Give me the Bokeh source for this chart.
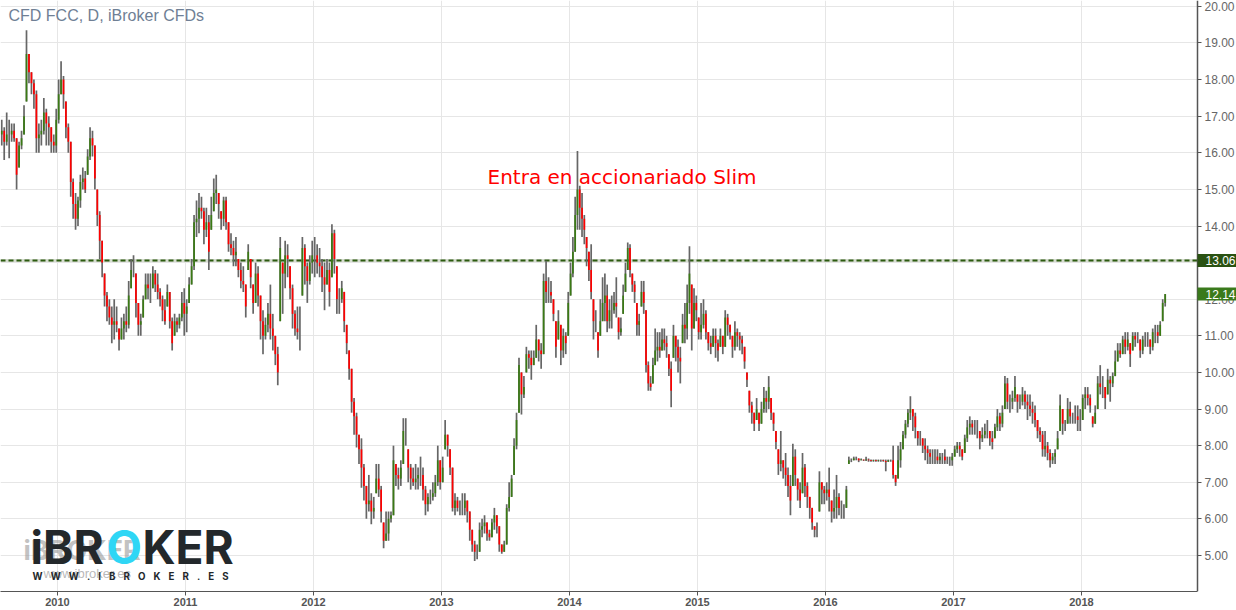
from bokeh.plotting import figure
from bokeh.models import Label, FixedTicker, BoxAnnotation, ColumnDataSource
from bokeh.embed import file_html
from bokeh.resources import INLINE

# weekly (high, low, close), grouped by calendar year
bars_2009 = [(16.9,16.2,16.6),(16.7,15.8,16.3),(17.1,16.2,16.5),(16.9,15.85,16.5),(16.8,16.3,16.6),(16.8,16.3,16.4),
 (16.4,15.0,15.4),(16.3,15.6,16.2),(16.6,16.1,16.4),(17.3,16.5,17.0),(19.35,17.4,18.7),(18.7,17.9,18.2),(18.2,17.6,17.9),
 (18.0,17.2,17.6),(17.7,16.0,16.4),(16.8,16.0,16.5),(16.9,16.2,16.6),(17.5,16.5,17.1),(17.2,16.2,16.8),(17.0,16.2,16.7),
 (16.7,16.0,16.3),(16.5,16.0,16.2),(17.2,16.0,16.9)]
bars_2010 = [(18.0,16.8,17.6),(18.5,17.6,18.0),(18.1,17.2,17.6),(17.4,16.4,16.7),(16.8,16.0,16.3),(16.3,14.8,15.2),
 (15.3,14.2,14.6),(14.9,13.9,14.2),(14.8,14.0,14.7),(15.4,14.5,15.2),(15.6,15.0,15.3),(15.5,14.9,15.0),(16.1,15.4,15.9),
 (16.7,15.8,16.4),(16.6,15.9,16.2),(16.2,15.0,15.3),(15.0,14.0,14.3),(14.4,13.1,13.6),(13.6,12.6,13.0),(12.7,11.8,12.1),
 (12.2,11.4,11.8),(12.0,11.3,11.5),(11.8,10.8,11.3),(12.0,10.9,11.4),(11.8,11.1,11.3),(11.2,10.6,10.9),(11.5,10.9,11.2),
 (11.6,10.9,11.4),(11.8,11.1,11.3),(12.5,11.2,12.1),(13.1,12.3,12.8),(13.2,12.6,12.8),(12.7,11.5,11.9),(11.9,11.0,11.3),
 (11.6,11.0,11.4),(12.1,11.5,12.0),(12.7,12.0,12.4),(12.7,12.0,12.3),(12.7,11.9,12.3),(12.9,12.3,12.7),(12.8,12.2,12.4),
 (12.7,12.0,12.2),(12.3,11.8,12.0),(12.1,11.4,11.7),(12.0,11.3,11.4),(12.4,11.8,12.2),(12.2,11.2,11.4),(11.5,10.6,10.8),
 (11.6,11.0,11.4),(11.5,11.1,11.3),(11.6,11.2,11.5),(12.2,11.4,11.9),(12.3,11.0,11.6)]
bars_2011 = [(12.0,11.1,11.8),(12.6,11.9,12.4),(13.1,12.4,12.9),(14.3,12.8,14.1),(14.7,13.7,14.2),(14.9,13.8,14.5),
 (14.8,14.2,14.4),(14.5,13.5,13.9),(14.5,13.7,14.1),(14.3,12.8,13.3),(14.8,13.9,14.3),(15.3,14.4,14.9),(15.4,14.6,15.0),
 (14.9,14.2,14.6),(14.4,13.9,14.2),(14.8,14.0,14.7),(14.8,13.9,14.1),(14.1,13.3,13.5),(13.8,13.2,13.4),(13.6,12.9,13.2),
 (13.7,12.9,13.3),(13.1,12.6,12.8),(13.0,12.3,12.5),(12.9,12.2,12.4),(12.4,11.5,11.8),(13.5,12.8,13.3),(13.1,12.3,12.6),
 (12.4,11.6,11.9),(13.0,11.9,12.7),(12.9,11.8,12.1),(12.1,10.9,11.4),(11.7,10.5,11.0),(11.5,10.9,11.3),(11.9,11.1,11.6),
 (12.4,10.9,11.2),(11.6,10.6,11.0),(11.0,10.2,10.5),(10.7,9.65,10.0),(13.7,11.4,13.4),(13.0,11.6,12.7),(13.6,12.3,13.2),
 (13.5,12.6,13.1),(12.9,12.0,12.3),(12.4,11.2,11.6),(11.7,11.0,11.2),(11.8,10.9,11.1),(11.8,10.6,11.1),(13.7,12.1,13.4),
 (13.5,12.4,12.9),(13.0,11.9,12.5),(13.2,12.4,13.0),(13.6,12.7,13.2)]
bars_2012 = [(13.7,12.6,13.2),(13.5,12.7,13.0),(13.4,12.6,12.9),(13.1,12.2,12.6),(13.0,11.7,12.4),(13.1,12.4,12.8),
 (13.0,11.8,12.2),(14.05,12.6,13.8),(13.9,12.7,13.1),(12.9,11.6,12.0),(12.3,11.6,12.0),(12.5,11.9,12.3),(12.2,11.1,11.4),
 (11.3,10.5,10.8),(10.6,9.8,10.1),(10.1,8.9,9.2),(9.3,8.3,8.8),(8.9,7.95,8.3),(8.3,7.5,7.9),(8.2,6.85,7.4),(7.5,6.5,6.9),
 (6.9,6.0,6.4),(7.2,6.2,6.5),(6.7,5.85,6.2),(6.6,6.0,6.3),(7.5,6.7,7.1),(7.5,6.6,6.8),(6.9,5.9,6.2),(5.9,5.2,5.4),
 (6.2,5.4,5.6),(6.2,5.4,6.0),(6.2,5.9,6.1),(8.0,6.1,7.6),(7.5,6.9,7.2),(7.4,6.8,7.1),(7.6,6.9,7.4),(8.75,7.5,8.4),
 (8.75,8.0,8.4),(7.9,7.0,7.4),(7.5,6.8,7.1),(7.4,6.9,7.0),(7.5,6.8,7.1),(7.4,6.8,7.2),(7.7,6.9,7.2),(7.4,6.5,6.8),
 (6.9,6.1,6.4),(6.7,6.2,6.6),(6.8,6.4,6.6),(7.0,6.5,6.7),(7.2,6.6,7.0),(8.0,6.9,7.6),(7.6,6.8,7.0)]
bars_2013 = [(7.7,7.0,7.4),(8.7,7.9,8.3),(8.3,7.7,8.0),(7.9,7.2,7.4),(7.4,6.2,6.3),(6.7,6.1,6.5),(6.6,6.2,6.3),(6.5,6.1,6.3),
 (6.7,6.1,6.3),(6.7,6.1,6.5),(6.5,5.9,6.2),(6.2,5.4,5.7),(5.7,5.1,5.3),(5.4,4.85,5.1),(5.3,4.9,5.1),(5.9,5.1,5.7),
 (6.0,5.5,5.8),(6.1,5.6,5.9),(5.9,5.4,5.6),(5.7,5.4,5.5),(6.0,5.5,5.9),(6.3,5.7,6.1),(6.1,5.6,5.8),(5.8,5.1,5.3),
 (5.3,5.05,5.1),(5.4,5.1,5.3),(6.4,5.3,6.3),(7.0,6.2,6.6),(7.2,6.6,7.1),(8.2,7.2,8.0),(8.9,7.9,8.7),(10.4,8.9,10.2),
 (10.0,8.85,9.4),(9.9,9.3,9.6),(10.7,10.0,10.5),(10.6,10.1,10.4),(10.6,9.8,10.2),(10.6,10.2,10.4),(11.3,10.4,10.9),
 (10.9,10.3,10.6),(10.8,10.1,10.5),(12.7,10.5,12.5),(13.05,11.9,12.2),(12.6,11.9,12.2),(12.5,11.9,12.1),(12.0,11.4,11.6),
 (11.4,10.4,10.7),(11.7,10.9,11.4),(11.3,10.2,10.6),(11.2,10.4,11.0),(11.1,10.5,10.8),(12.2,11.0,11.9)]
bars_2014 = [(13.0,12.1,12.7),(13.7,12.6,13.3),(14.8,13.3,14.3),(16.05,13.9,15.0),(15.1,13.9,14.5),(14.9,13.7,14.2),
 (14.3,13.5,13.9),(13.7,12.9,13.4),(13.3,12.5,12.8),(13.5,12.0,12.2),(12.0,10.9,11.4),(11.7,11.1,11.4),(11.1,10.4,10.6),
 (12.0,11.0,11.4),(12.6,11.4,11.9),(12.7,11.4,12.1),(12.4,11.1,11.4),(12.0,11.2,11.7),(12.1,11.2,11.7),(12.2,11.6,11.9),
 (12.6,11.5,11.8),(11.5,10.9,11.1),(11.5,11.0,11.2),(12.4,11.6,12.1),(13.0,12.2,12.7),(13.55,12.8,13.4),(13.5,12.6,12.8),
 (12.7,12.2,12.4),(12.5,11.9,12.2),(11.9,11.0,11.3),(11.6,11.0,11.4),(12.5,11.8,12.2),(12.5,11.6,11.9),(11.7,10.0,10.2),
 (10.3,9.5,9.7),(9.9,9.5,9.6),(10.4,9.7,10.2),(11.2,10.2,10.6),(11.1,10.3,10.7),(11.1,10.4,10.6),(11.2,10.6,10.9),
 (11.2,10.6,10.8),(11.0,10.4,10.7),(10.5,9.9,10.1),(10.3,9.05,9.5),(11.3,10.4,11.0),(11.0,10.3,10.7),(10.9,10.0,10.4),
 (10.7,9.7,10.3),(11.6,10.8,11.3),(11.9,10.8,11.2),(12.4,10.9,11.9),(13.45,11.6,12.7),(12.4,10.6,11.2),(12.3,11.2,11.9),(12.1,11.4,11.7)]
bars_2015 = [(11.5,10.9,11.1),(11.9,10.9,11.3),(12.0,11.2,11.6),(11.7,10.9,11.1),(11.1,10.6,10.8),(11.0,10.5,10.7),
 (11.2,10.7,11.0),(11.2,10.4,10.8),(10.9,10.3,10.6),(11.2,10.7,11.0),(11.0,10.5,10.7),(11.7,10.7,11.5),(11.6,11.0,11.3),
 (11.3,10.9,11.1),(11.0,10.4,10.7),(11.4,10.6,11.1),(11.2,10.7,11.0),(11.1,10.6,10.9),(11.0,10.5,10.8),(10.7,10.1,10.3),
 (10.0,9.6,9.8),(9.5,8.9,9.1),(9.2,8.6,8.9),(8.9,8.4,8.6),(9.3,8.7,9.0),(8.9,8.4,8.6),(9.2,8.6,9.0),(9.6,8.9,9.3),
 (9.5,8.9,9.2),(9.9,9.0,9.6),(9.3,8.7,8.9),(8.9,8.4,8.6),(8.4,7.9,8.1),(7.9,7.2,7.5),(8.4,7.3,7.6),(7.6,7.1,7.4),
 (7.8,6.9,7.2),(7.4,6.6,6.9),(7.2,6.1,6.5),(8.05,6.9,7.7),(7.9,6.9,7.2),(7.1,6.5,6.8),(7.0,6.3,6.5),(7.8,6.7,7.4),
 (7.5,6.6,6.9),(7.0,6.3,6.6),(6.6,6.0,6.3),(6.3,5.7,5.9),(5.8,5.5,5.7),(5.9,5.5,5.7),(7.3,6.2,7.0),(7.0,6.4,6.8),(6.9,6.4,6.7)]
bars_2016 = [(7.0,6.5,6.8),(7.4,6.2,6.6),(6.5,5.9,6.2),(6.8,6.0,6.3),(7.2,6.0,6.6),(6.7,6.1,6.3),(6.5,6.0,6.3),(6.4,6.0,6.3),
 (6.9,6.3,6.8),(7.7,7.5,7.6),(7.65,7.55,7.6),(7.7,7.6,7.65),(7.7,7.6,7.65),(7.65,7.55,7.6),(7.65,7.6,7.62),(7.62,7.58,7.6),
 (7.7,7.58,7.62),(7.65,7.56,7.6),(7.62,7.56,7.58),(7.62,7.56,7.6),(7.62,7.56,7.58),(7.62,7.56,7.6),(7.62,7.56,7.6),
 (7.62,7.56,7.58),(7.62,7.3,7.55),(7.62,7.56,7.6),(7.62,7.56,7.6),(8.0,7.1,7.2),(7.2,6.9,7.0),(8.0,7.1,7.6),(8.1,7.4,7.9),
 (8.4,7.9,8.3),(8.7,8.2,8.6),(9.0,8.5,8.9),(9.35,8.7,9.0),(9.0,8.4,8.8),(8.9,8.2,8.5),(8.4,8.0,8.2),(8.4,8.0,8.2),
 (8.2,7.8,8.0),(8.2,7.6,7.9),(8.0,7.5,7.8),(7.9,7.5,7.7),(7.9,7.5,7.7),(7.9,7.5,7.7),(7.9,7.5,7.6),(7.8,7.5,7.7),
 (7.8,7.5,7.7),(7.9,7.5,7.6),(7.7,7.5,7.6),(7.7,7.45,7.6),(7.8,7.45,7.7)]
bars_2017 = [(8.0,7.7,7.9),(8.1,7.8,8.0),(8.1,7.7,7.9),(7.9,7.6,7.7),(8.3,7.8,8.2),(8.7,8.1,8.5),(8.8,8.3,8.6),(8.7,8.3,8.5),
 (8.7,8.3,8.5),(8.7,8.2,8.5),(8.4,7.9,8.2),(8.5,8.1,8.3),(8.6,8.2,8.4),(8.7,8.2,8.4),(8.4,8.0,8.2),(8.4,7.9,8.1),
 (8.6,8.2,8.5),(9.0,8.4,8.8),(8.9,8.4,8.6),(9.1,8.5,8.9),(9.9,9.0,9.7),(9.85,9.0,9.2),(9.4,8.9,9.2),(9.5,9.0,9.3),
 (9.9,9.2,9.6),(9.4,8.9,9.2),(9.4,9.0,9.2),(9.6,9.1,9.4),(9.5,9.0,9.2),(9.4,8.7,9.1),(9.4,8.8,9.0),(9.2,8.6,8.9),
 (9.1,8.5,8.7),(8.7,8.2,8.4),(8.5,8.1,8.3),(8.4,7.7,7.9),(8.4,7.7,8.0),(8.1,7.6,7.8),(7.9,7.4,7.6),(7.8,7.5,7.7),
 (7.9,7.5,7.8),(8.4,7.9,8.2),(9.4,8.4,9.1),(9.0,8.3,8.6),(8.7,8.4,8.6),(9.3,8.6,9.0),(9.2,8.6,8.8),(8.9,8.6,8.8),
 (9.1,8.6,8.8),(9.1,8.4,8.7),(9.0,8.4,8.7)]
bars_2018 = [(9.4,8.7,9.3),(9.6,9.0,9.4),(9.6,9.1,9.3),(9.4,8.9,9.1),(8.8,8.5,8.6),(9.1,8.6,8.9),(9.9,9.0,9.7),(10.2,9.4,9.6),
 (9.9,9.3,9.6),(9.6,9.0,9.3),(10.1,9.4,9.8),(9.9,9.2,9.7),(10.0,9.6,9.9),(10.6,9.9,10.3),(10.8,10.3,10.6),(10.8,10.4,10.5),
 (11.0,10.5,10.9),(11.1,10.5,10.7),(11.1,10.6,10.9),(10.8,10.15,10.5),(11.1,10.6,11.0),(11.1,10.7,10.9),(11.1,10.8,10.9),
 (10.9,10.4,10.6),(11.0,10.5,10.9),(11.1,10.7,10.9),(11.1,10.7,10.9),(10.9,10.5,10.7),(11.2,10.6,11.1),(11.3,10.8,11.1),
 (11.3,10.8,11.0),(11.4,11.0,11.3),(12.0,11.4,11.9),(12.14,11.8,12.14)]

# (start of span in years, length of span in years, bars)
year_groups = [(2009.555,0.445,bars_2009),(2010,1,bars_2010),(2011,1,bars_2011),(2012,1,bars_2012),(2013,1,bars_2013),
               (2014,1,bars_2014),(2015,1,bars_2015),(2016,1,bars_2016),(2017,1,bars_2017),(2018,0.664,bars_2018)]
year_ticks = [2010,2011,2012,2013,2014,2015,2016,2017,2018]
price_ticks = list(range(5,21))
resistance = 13.06
last_price = 12.14

xs, hi, lo, op, cl = [], [], [], [], []
prev = 16.5
for start, span, bars in year_groups:
    n = len(bars)
    for i, (h, l, c) in enumerate(bars):
        xs.append(start + span*(i+0.5)/n)
        hi.append(h); lo.append(l); cl.append(c)
        op.append(min(max(prev, l), h)); prev = c
up_color = "#3a7a14"; down_color = "#ff0000"
cols = [up_color if c >= o else down_color for o, c in zip(op, cl)]
src = ColumnDataSource(dict(x=xs, hi=hi, lo=lo, op=op, cl=cl, c=cols))

X_MIN, PX_PER_YEAR = 2009.555, 128.0
X_MAX = X_MIN + 1236/PX_PER_YEAR          # frame runs to the page edge so price tags are not clipped
X_AXIS = X_MIN + 1197/PX_PER_YEAR         # where the price axis stands
Y_MIN, Y_MAX = 4.016, 20.16
FRAME_H = 591
p = figure(width=1236, height=610, x_range=(X_MIN,X_MAX), y_range=(Y_MIN,Y_MAX), y_axis_location="right",
           output_backend="svg", toolbar_location=None, min_border_left=0, min_border_top=0,
           min_border_right=0, min_border_bottom=19, outline_line_color=None, background_fill_color="white")

p.xgrid.ticker = FixedTicker(ticks=year_ticks); p.ygrid.ticker = FixedTicker(ticks=price_ticks)
p.xgrid.grid_line_color = "#e6e6e6"; p.ygrid.grid_line_color = "#e6e6e6"
p.add_layout(BoxAnnotation(left=X_AXIS, fill_color="white", fill_alpha=1, line_color=None, level="underlay"))

xa = p.xaxis[0]
xa.ticker = FixedTicker(ticks=year_ticks)
xa.bounds = (X_MIN, X_AXIS)
xa.major_label_overrides = {y: str(y) for y in year_ticks}
xa.major_label_text_font = "Liberation Sans"; xa.major_label_text_font_size = "11px"
xa.major_label_text_font_style = "bold"; xa.major_label_text_color = "#555555"
xa.axis_line_color = "#555555"; xa.major_tick_line_color = "#555555"
xa.major_tick_out = 4; xa.major_tick_in = 0; xa.minor_tick_line_color = None; xa.major_label_standoff = 2

ya = p.yaxis[0]
ya.fixed_location = X_AXIS
ya.ticker = FixedTicker(ticks=price_ticks)
ya.major_label_overrides = {v: f"{v:.2f}" for v in price_ticks}
ya.major_label_text_font = "Liberation Sans"; ya.major_label_text_font_size = "12px"
ya.major_label_text_color = "#666666"; ya.axis_line_color = "#555555"; ya.axis_line_width = 1.5
ya.major_tick_line_color = "#555555"; ya.major_tick_out = 4; ya.major_tick_in = 0
ya.minor_tick_line_color = None; ya.major_label_standoff = 3

p.segment([X_MIN], [resistance], [X_AXIS], [resistance], line_color="#d6ddd0", line_width=3)
p.segment([X_MIN], [resistance], [X_AXIS], [resistance], line_color="#2c5a10", line_width=2, line_dash="5 3")

p.segment("x", "lo", "x", "hi", source=src, line_color="#666666", line_width=1.7)
p.segment("x", "op", "x", "cl", source=src, line_color="c", line_width=1.7)

def lab(text, x, y, **kw):
    p.add_layout(Label(x=x, y=y, x_units="screen", y_units="screen", text=text, **kw))

lab("CFD FCC, D, iBroker CFDs", 8, 568, text_font="Liberation Sans", text_font_size="16px", text_color="#6f7f95")
lab("Entra en accionariado Slim", 487, 403, text_font="DejaVu Sans", text_font_size="20px", text_color="#ff0000")

# ghost logo behind the main one
lab("iBROKER", 23, 25, text_font="Inter", text_font_size="27px", text_font_style="bold", text_color="#999999", text_alpha=0.6)
lab("www.ibroker.es", 43, 11, text_font="Liberation Sans", text_font_size="13px", text_color="#999999", text_alpha=0.7)
# main logo
lab("iBR", 30, 17, text_font="Inter", text_font_size="46px", text_font_style="bold", text_color="#23282b")
lab("O", 106, 17, text_font="Inter", text_font_size="46px", text_font_style="bold", text_color="#2fd6f5")
lab("KER", 142, 17, text_font="Inter", text_font_size="46px", text_font_style="bold", text_color="#23282b")
gap = "\u2002\u2004"
lab(gap.join("WWW.IBROKER.ES"), 32, 10, text_font="Inter", text_font_size="9.7px", text_font_style="bold", text_color="#23282b")

for val, col in ((resistance, "#2a5212"), (last_price, "#3a7a1c")):
    sy = FRAME_H * (val - Y_MIN) / (Y_MAX - Y_MIN)
    p.add_layout(Label(x=1197, y=sy, x_units="screen", y_units="screen", text=f"{val:.2f}", text_baseline="middle",
                       text_color="white", text_font="Liberation Sans", text_font_size="12px",
                       background_fill_color=col, padding=(8, 8, 2, 2)))

html = file_html(p, INLINE)
html = html.replace("<body>", '<body style="margin:0">')
open("out.html", "w").write(html)
